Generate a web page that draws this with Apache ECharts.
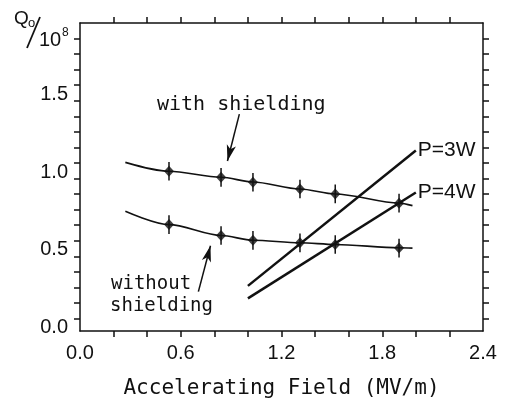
<!DOCTYPE html>
<html>
<head>
<meta charset="utf-8">
<script src="https://cdn.jsdelivr.net/npm/echarts@6/dist/echarts.min.js"></script>
<style>
  html, body { margin: 0; padding: 0; background: #fff; }
  #chart { width: 505px; height: 404px; }
</style>
</head>
<body>
<div id="chart"></div>
<script>
// 测量点：加速场 (MV/m) 与 Q0 (1e8)
var fieldPts = [0.53, 0.84, 1.03, 1.31, 1.52, 1.90];
var qWith = [0.947, 0.908, 0.876, 0.833, 0.801, 0.742];
var qWithout = [0.604, 0.534, 0.503, 0.487, 0.476, 0.453];
var errHalf = 0.06;

// 手绘拟合曲线
var fitX = [0.27, 0.53, 0.84, 1.03, 1.31, 1.52, 1.90, 1.98];
var fitWithY = [1.004, 0.947, 0.908, 0.878, 0.833, 0.801, 0.742, 0.726];
var fitWithoutY = [0.690, 0.604, 0.534, 0.503, 0.487, 0.476, 0.455, 0.453];

// 等功率线
var p3wX = [1.0, 2.0], p3wY = [0.21, 1.08];
var p4wX = [1.0, 2.0], p4wY = [0.13, 0.81];

// 箭头（数据坐标）
var arrowWith = [[0.949, 1.314], [0.878, 1.013]];
var arrowWithout = [[0.705, 0.173], [0.777, 0.468]];

// 刻度
var xLabels = [0, 0.6, 1.2, 1.8, 2.4];
var xTicks = [0.2, 0.4, 0.6, 0.8, 1.0, 1.2, 1.4, 1.6, 1.8, 2.0, 2.2];
var yLabels = [0, 0.5, 1.0, 1.5];
var yTicks = [0, 0.1, 0.2, 0.3, 0.4, 0.5, 0.6, 0.7, 0.8, 0.9, 1.0, 1.1, 1.2, 1.3, 1.4, 1.5, 1.6, 1.7, 1.8];

var ink = '#111';

function zip(xs, ys) {
  return xs.map(function (x, i) { return [x, ys[i]]; });
}

function errBars(params, api) {
  var x = api.value(0), y = api.value(1);
  var a = api.coord([x, y + errHalf]);
  var b = api.coord([x, y - errHalf]);
  return {
    type: 'line',
    shape: { x1: a[0], y1: a[1], x2: b[0], y2: b[1] },
    style: { stroke: ink, lineWidth: 1.5 }
  };
}

function arrowLine(pts) {
  return {
    silent: true,
    symbol: ['none', 'arrow'],
    symbolSize: [7, 16],
    label: { show: false },
    lineStyle: { color: ink, width: 1.5, type: 'solid' },
    emphasis: { disabled: true },
    data: [[{ coord: pts[0] }, { coord: pts[1] }]]
  };
}

function txt(s, left, top, size, family) {
  return {
    type: 'text', left: left, top: top,
    style: { text: s, fontSize: size, fontFamily: family, fill: ink }
  };
}

var tickStyle = { color: ink, width: 1.5 };
var lineFont = 'Liberation Sans';
var monoFont = 'DejaVu Sans Mono';

var chart = echarts.init(document.getElementById('chart'));
var option = {
  animation: false,
  backgroundColor: '#fff',
  grid: { left: 80, right: 22, top: 23, bottom: 71 },
  xAxis: [{
    type: 'value', position: 'bottom', min: 0, max: 2.4,
    axisLine: { onZero: false, lineStyle: tickStyle },
    axisTick: { show: true, customValues: xTicks, length: 6, lineStyle: tickStyle },
    axisLabel: {
      customValues: xLabels, margin: 12,
      formatter: function (v) { return v.toFixed(1); },
      fontFamily: lineFont, fontSize: 20, color: ink
    },
    splitLine: { show: false },
    name: 'Accelerating Field (MV/m)', nameLocation: 'middle', nameGap: 47,
    nameTextStyle: { fontFamily: monoFont, fontSize: 21, color: ink }
  }, {
    type: 'value', position: 'top', min: 0, max: 2.4,
    axisLine: { onZero: false, lineStyle: tickStyle },
    axisTick: { show: true, customValues: xTicks, length: 6, lineStyle: tickStyle },
    axisLabel: { show: false },
    splitLine: { show: false }
  }],
  yAxis: [{
    type: 'value', position: 'left', min: -0.08, max: 1.9,
    axisLine: { show: true, onZero: false, lineStyle: tickStyle },
    axisTick: { show: true, customValues: yTicks, length: 6, lineStyle: tickStyle },
    axisLabel: {
      customValues: yLabels, margin: 12, verticalAlign: 'top', lineHeight: 18,
      formatter: function (v) { return v.toFixed(1); },
      fontFamily: lineFont, fontSize: 20, color: ink
    },
    splitLine: { show: false }
  }, {
    type: 'value', position: 'right', min: -0.08, max: 1.9,
    axisLine: { show: true, onZero: false, lineStyle: tickStyle },
    axisTick: { show: true, customValues: yTicks, length: 6, lineStyle: tickStyle },
    axisLabel: { show: false },
    splitLine: { show: false }
  }],
  graphic: [
    txt('Q', 14, 9, 19, lineFont),
    txt('o', 28, 17, 13, lineFont),
    { type: 'line', shape: { x1: 27, y1: 48, x2: 40, y2: 17 }, style: { stroke: ink, lineWidth: 1.8 } },
    txt('10', 39, 30, 20, lineFont),
    txt('8', 62, 27, 12, lineFont),
    txt('with shielding', 157, 95, 20, monoFont),
    txt('without', 111, 275, 19, monoFont),
    txt('shielding', 110, 297, 19, monoFont)
  ],
  series: [
    {
      name: 'fit with', type: 'line', smooth: 0.3, smoothMonotone: 'x', showSymbol: false,
      data: zip(fitX, fitWithY), lineStyle: { color: ink, width: 1.6 },
      markLine: arrowLine(arrowWith)
    },
    {
      name: 'fit without', type: 'line', smooth: 0.3, smoothMonotone: 'x', showSymbol: false,
      data: zip(fitX, fitWithoutY), lineStyle: { color: ink, width: 1.6 },
      markLine: arrowLine(arrowWithout)
    },
    {
      name: 'P=3W', type: 'line', showSymbol: false, data: zip(p3wX, p3wY),
      lineStyle: { color: ink, width: 2.5 },
      endLabel: { show: true, formatter: 'P=3W', distance: 2, fontFamily: lineFont, fontSize: 21, color: ink }
    },
    {
      name: 'P=4W', type: 'line', showSymbol: false, data: zip(p4wX, p4wY),
      lineStyle: { color: ink, width: 2.5 },
      endLabel: { show: true, formatter: 'P=4W', distance: 2, fontFamily: lineFont, fontSize: 21, color: ink }
    },
    { type: 'custom', renderItem: errBars, data: zip(fieldPts, qWith), z: 3 },
    { type: 'custom', renderItem: errBars, data: zip(fieldPts, qWithout), z: 3 },
    { type: 'scatter', symbol: 'diamond', symbolSize: [10, 11], itemStyle: { color: ink }, data: zip(fieldPts, qWith), z: 4 },
    { type: 'scatter', symbol: 'diamond', symbolSize: [10, 11], itemStyle: { color: ink }, data: zip(fieldPts, qWithout), z: 4 }
  ]
};
chart.setOption(option);
</script>
</body>
</html>
